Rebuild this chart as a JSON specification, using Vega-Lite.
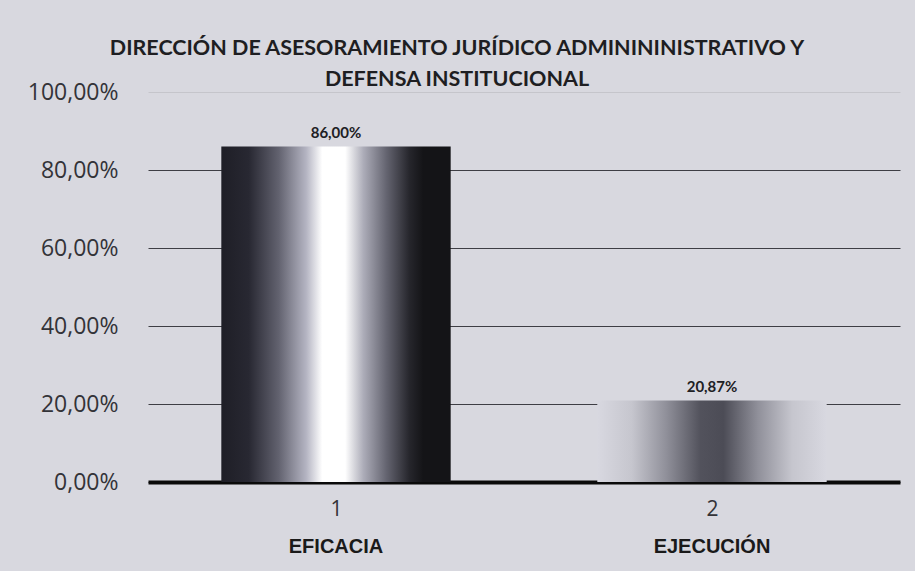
{
  "$schema": "https://vega.github.io/schema/vega-lite/v6.json",
  "width": 752,
  "height": 390,
  "autosize": {"type": "none"},
  "padding": {"left": 148, "top": 92, "right": 15, "bottom": 89},
  "background": "#d8d8df",
  "title": {
    "text": ["DIRECCIÓN DE ASESORAMIENTO JURÍDICO ADMINININISTRATIVO Y", "DEFENSA INSTITUCIONAL"],
    "font": "Lato",
    "fontSize": 21.5,
    "fontWeight": "bold",
    "color": "#1e1e22",
    "anchor": "middle",
    "dx": -67,
    "lineHeight": 31,
    "baseline": "bottom",
    "offset": -31
  },
  "data": {
    "values": [
      {"n": "1", "cat": "EFICACIA", "valor": 0.86},
      {"n": "2", "cat": "EJECUCIÓN", "valor": 0.2087}
    ]
  },
  "config": {
    "locale": {"number": {"decimal": ",", "thousands": ".", "grouping": [3], "currency": ["", " €"]}},
    "view": {"stroke": null},
    "scale": {"bandPaddingInner": 0.39, "bandPaddingOuter": 0.195}
  },
  "layer": [
    {
      "encoding": {
        "x": {"field": "cat", "type": "nominal", "axis": {
          "title": null, "labelAngle": 0, "orient": "bottom", "offset": 0,
          "domain": false, "ticks": false, "grid": false,
          "labelFont": "Liberation Sans", "labelFontSize": 20, "labelFontWeight": "bold",
          "labelColor": "#1a1a1a", "labelPadding": 54
        }},
        "y": {"field": "valor", "type": "quantitative", "scale": {"domain": [0, 1]}, "axis": {
          "title": null, "values": [0, 0.2, 0.4, 0.6, 0.8, 1], "format": ".2%",
          "domain": false, "ticks": false, "grid": true, "gridColor": "#3e3e44", "gridWidth": 1,
          "gridOpacity": {"condition": {"test": "datum.value == 1", "value": 0.12}, "value": 1},
          "labelFont": "Open Sans", "labelFontSize": 23, "labelColor": "#333338", "labelPadding": 30
        }}
      },
      "layer": [
        {
          "transform": [{"filter": "datum.cat == 'EFICACIA'"}],
          "mark": {
            "type": "bar",
            "color": {
              "gradient": "linear", "x1": 0, "y1": 0, "x2": 1, "y2": 0,
              "stops": [
                {"offset": 0, "color": "#1e1e26"},
                {"offset": 0.12, "color": "#282832"},
                {"offset": 0.25, "color": "#62626f"},
                {"offset": 0.37, "color": "#b4b4c2"},
                {"offset": 0.44, "color": "#ffffff"},
                {"offset": 0.54, "color": "#ffffff"},
                {"offset": 0.62, "color": "#acacb8"},
                {"offset": 0.72, "color": "#646470"},
                {"offset": 0.82, "color": "#26262c"},
                {"offset": 0.88, "color": "#141417"},
                {"offset": 1, "color": "#141417"}
              ]
            }
          }
        },
        {
          "transform": [{"filter": "datum.cat == 'EJECUCIÓN'"}],
          "mark": {
            "type": "bar",
            "color": {
              "gradient": "linear", "x1": 0, "y1": 0, "x2": 1, "y2": 0,
              "stops": [
                {"offset": 0, "color": "#d8d8e0"},
                {"offset": 0.15, "color": "#c6c6ce"},
                {"offset": 0.3, "color": "#90909a"},
                {"offset": 0.45, "color": "#52525c"},
                {"offset": 0.55, "color": "#4c4c56"},
                {"offset": 0.7, "color": "#90909a"},
                {"offset": 0.85, "color": "#c6c6ce"},
                {"offset": 1, "color": "#d8d8e0"}
              ]
            }
          }
        }
      ]
    },
    {
      "mark": {"type": "text", "baseline": "bottom", "dy": -6, "font": "Lato", "fontSize": 15, "fontWeight": "bold", "color": "#202024"},
      "encoding": {
        "x": {"field": "n", "type": "nominal", "axis": {
          "title": null, "labelAngle": 0, "orient": "bottom",
          "domain": true, "domainColor": "#0a0a0a", "domainWidth": 4, "ticks": false, "grid": false,
          "labelFont": "Open Sans", "labelFontSize": 21, "labelColor": "#333338", "labelPadding": 16
        }},
        "y": {"field": "valor", "type": "quantitative"},
        "text": {"field": "valor", "type": "quantitative", "format": ".2%"}
      }
    }
  ],
  "resolve": {"scale": {"x": "independent"}}
}
